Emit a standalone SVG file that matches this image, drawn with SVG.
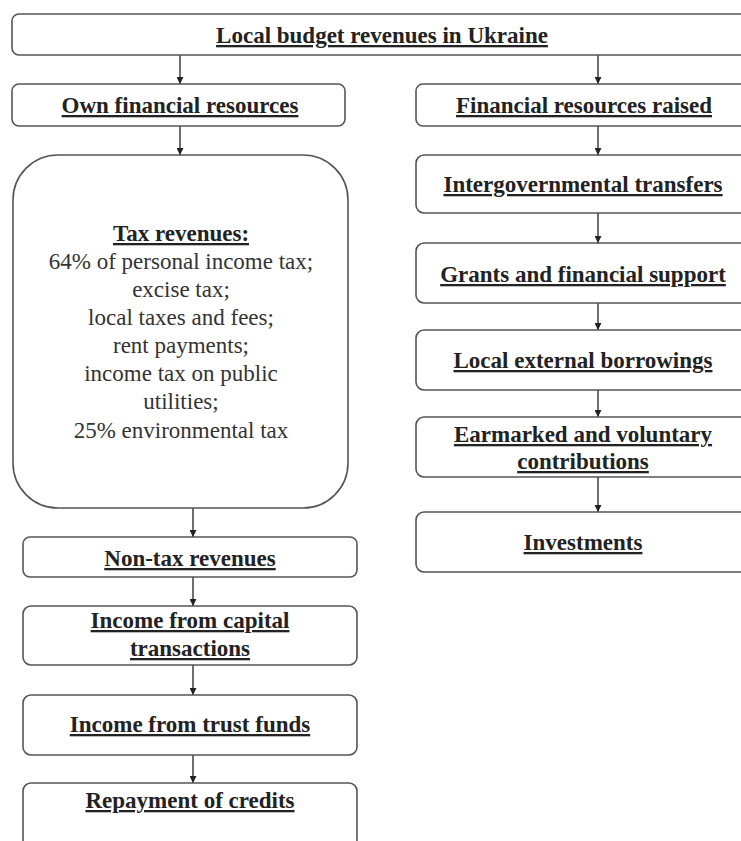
<svg xmlns="http://www.w3.org/2000/svg" width="741" height="841" viewBox="0 0 741 841">
<defs>
<marker id="arr" viewBox="0 0 10 10" refX="10" refY="5" markerWidth="7" markerHeight="7" orient="auto" markerUnits="userSpaceOnUse">
<path d="M0,0 L10,5 L0,10 Z" fill="#222"/>
</marker>
<style>
.box{fill:#fff;stroke:#555;stroke-width:1.6}
.h{font-family:"Liberation Serif","Times New Roman",serif;font-size:23px;font-weight:bold;fill:#222;text-anchor:middle;text-decoration:underline}
.t{font-family:"Liberation Serif","Times New Roman",serif;font-size:23px;fill:#333;text-anchor:middle}
.c{stroke:#333;stroke-width:1.4;fill:none;marker-end:url(#arr)}
</style>
</defs>
<rect width="741" height="841" fill="#fff"/>
<g id="connectors">
<line class="c" x1="180" y1="55" x2="180" y2="84"/>
<line class="c" x1="598" y1="55" x2="598" y2="84"/>
<line class="c" x1="180" y1="126" x2="180" y2="155"/>
<line class="c" x1="193" y1="508" x2="193" y2="537"/>
<line class="c" x1="193" y1="577" x2="193" y2="606"/>
<line class="c" x1="193" y1="665" x2="193" y2="695"/>
<line class="c" x1="193" y1="755" x2="193" y2="783"/>
<line class="c" x1="598" y1="126" x2="598" y2="155"/>
<line class="c" x1="598" y1="213" x2="598" y2="243"/>
<line class="c" x1="598" y1="303" x2="598" y2="330"/>
<line class="c" x1="598" y1="390" x2="598" y2="417"/>
<line class="c" x1="598" y1="477" x2="598" y2="512"/>
</g>
<g id="root">
<rect class="box" x="12" y="14" width="745" height="41" rx="7"/>
<text class="h" x="382" y="43">Local budget revenues in Ukraine</text>
</g>
<g id="own">
<rect class="box" x="12" y="84" width="333" height="42" rx="7"/>
<text class="h" x="180" y="113">Own financial resources</text>
</g>
<g id="tax">
<rect class="box" x="13" y="155" width="335" height="353" rx="45"/>
<text class="h" x="181" y="241">Tax revenues:</text>
<text class="t" x="181" y="269">64% of personal income tax;</text>
<text class="t" x="181" y="297">excise tax;</text>
<text class="t" x="181" y="325">local taxes and fees;</text>
<text class="t" x="181" y="353">rent payments;</text>
<text class="t" x="181" y="381">income tax on public</text>
<text class="t" x="181" y="409">utilities;</text>
<text class="t" x="181" y="438">25% environmental tax</text>
</g>
<g id="nontax">
<rect class="box" x="23" y="537" width="334" height="40" rx="7"/>
<text class="h" x="190" y="566">Non-tax revenues</text>
</g>
<g id="capital">
<rect class="box" x="23" y="606" width="334" height="59" rx="8"/>
<text class="h" x="190" y="628">Income from capital</text>
<text class="h" x="190" y="656">transactions</text>
</g>
<g id="trust">
<rect class="box" x="23" y="695" width="334" height="60" rx="8"/>
<text class="h" x="190" y="732">Income from trust funds</text>
</g>
<g id="repayment">
<rect class="box" x="23" y="783" width="334" height="70" rx="8"/>
<text class="h" x="190" y="808">Repayment of credits</text>
</g>
<g id="raised">
<rect class="box" x="416" y="84" width="340" height="42" rx="7"/>
<text class="h" x="584" y="113">Financial resources raised</text>
</g>
<g id="transfers">
<rect class="box" x="416" y="155" width="340" height="58" rx="8"/>
<text class="h" x="583" y="192">Intergovernmental transfers</text>
</g>
<g id="grants">
<rect class="box" x="416" y="243" width="340" height="60" rx="8"/>
<text class="h" x="583" y="282">Grants and financial support</text>
</g>
<g id="borrowings">
<rect class="box" x="416" y="330" width="340" height="60" rx="8"/>
<text class="h" x="583" y="368">Local external borrowings</text>
</g>
<g id="earmarked">
<rect class="box" x="416" y="417" width="340" height="60" rx="8"/>
<text class="h" x="583" y="442">Earmarked and voluntary</text>
<text class="h" x="583" y="469">contributions</text>
</g>
<g id="investments">
<rect class="box" x="416" y="512" width="340" height="60" rx="8"/>
<text class="h" x="583" y="550">Investments</text>
</g>
</svg>
